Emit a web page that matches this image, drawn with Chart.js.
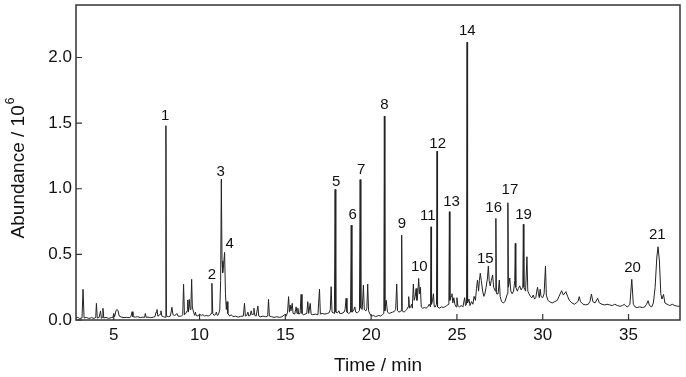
<!DOCTYPE html>
<html>
<head>
<meta charset="utf-8">
<script src="https://cdn.jsdelivr.net/npm/chart.js@4/dist/chart.umd.min.js"></script>
<style>
html,body{margin:0;padding:0;background:#fff;}
canvas{display:block;}
</style>
</head>
<body>
<canvas id="c" width="686" height="377"></canvas>
<script>
// ---- data ----
const time = [
2.80,2.90,3.00,3.15,3.21,3.27,3.40,3.55,3.70,3.85,3.95,3.99,4.04,4.15,4.23,4.28,4.33,4.37,4.42,4.55,
4.70,4.85,4.95,5.00,5.05,5.13,5.19,5.25,5.32,5.45,5.60,5.75,5.90,6.00,6.07,6.12,6.25,6.40,6.55,6.70,
6.80,6.84,6.89,7.00,7.15,7.30,7.40,7.47,7.52,7.57,7.65,7.70,7.75,7.80,7.90,8.01,8.04,8.07,8.20,8.30,
8.39,8.45,8.55,8.62,8.68,8.74,8.85,8.95,9.02,9.07,9.12,9.20,9.27,9.31,9.35,9.40,9.45,9.50,9.54,9.58,
9.65,9.72,9.76,9.80,9.90,10.00,10.10,10.20,10.30,10.40,10.50,10.60,10.67,10.72,10.77,10.85,10.92,10.98,11.03,11.10,
11.18,11.23,11.27,11.31,11.35,11.40,11.46,11.51,11.56,11.60,11.65,11.75,11.85,11.95,12.10,12.25,12.40,12.55,12.62,12.67,
12.75,12.82,12.87,12.95,13.01,13.06,13.12,13.17,13.22,13.30,13.40,13.45,13.55,13.70,13.85,13.97,14.02,14.07,14.20,14.35,
14.50,14.65,14.80,14.95,15.05,15.13,15.19,15.24,15.28,15.33,15.40,15.45,15.55,15.63,15.68,15.73,15.78,15.86,15.92,15.97,
16.05,16.15,16.25,16.31,16.36,16.45,16.50,16.60,16.75,16.90,16.99,17.04,17.15,17.30,17.45,17.55,17.62,17.67,17.72,17.86,
17.90,17.94,18.05,18.12,18.17,18.30,18.42,18.48,18.54,18.59,18.70,18.80,18.84,18.88,18.97,19.05,19.10,19.20,19.32,19.36,
19.40,19.48,19.55,19.60,19.70,19.75,19.80,19.85,19.95,20.05,20.15,20.25,20.35,20.45,20.55,20.65,20.74,20.77,20.80,20.88,
20.95,21.05,21.15,21.25,21.35,21.43,21.49,21.54,21.62,21.75,21.78,21.81,21.92,22.00,22.08,22.15,22.19,22.24,22.30,22.36,
22.40,22.46,22.51,22.57,22.62,22.67,22.72,22.77,22.82,22.87,22.92,23.00,23.10,23.20,23.30,23.38,23.46,23.49,23.52,23.58,
23.63,23.68,23.74,23.81,23.84,23.87,23.98,24.10,24.20,24.30,24.40,24.53,24.56,24.59,24.66,24.71,24.76,24.82,24.88,24.95,
25.00,25.05,25.15,25.25,25.35,25.45,25.50,25.56,25.59,25.62,25.70,25.76,25.85,25.93,26.00,26.08,26.14,26.20,26.26,26.31,
26.36,26.42,26.50,26.57,26.63,26.70,26.78,26.83,26.88,26.94,27.00,27.08,27.14,27.24,27.27,27.30,27.40,27.47,27.52,27.60,
27.70,27.80,27.94,27.97,28.00,28.08,28.14,28.22,28.30,28.37,28.40,28.43,28.52,28.58,28.66,28.74,28.84,28.87,28.90,29.00,
29.08,29.13,29.20,29.28,29.37,29.45,29.52,29.60,29.65,29.70,29.75,29.80,29.85,29.90,30.00,30.08,30.16,30.21,30.30,30.40,
30.55,30.70,30.85,30.95,31.10,31.20,31.35,31.45,31.55,31.70,31.85,31.95,32.05,32.13,32.20,32.35,32.50,32.65,32.75,32.84,
32.92,33.05,33.20,33.30,33.45,33.60,33.75,33.90,34.05,34.20,34.35,34.50,34.65,34.75,34.85,34.95,35.08,35.19,35.28,35.38,
35.50,35.65,35.80,35.95,36.05,36.14,36.22,36.35,36.45,36.55,36.65,36.72,36.80,36.88,36.95,37.04,37.12,37.25,37.40,37.55,
37.70,37.85,38.00
];
const abundance = [
0.015,0.020,0.012,0.015,0.234,0.015,0.020,0.012,0.018,0.012,0.020,0.127,0.015,0.020,0.069,0.012,0.020,0.089,0.015,0.020,
0.012,0.018,0.020,0.050,0.025,0.070,0.081,0.070,0.030,0.022,0.018,0.020,0.018,0.025,0.063,0.025,0.022,0.025,0.018,0.022,
0.020,0.050,0.020,0.022,0.018,0.022,0.025,0.060,0.080,0.030,0.035,0.045,0.070,0.030,0.025,0.020,1.480,0.030,0.025,0.030,
0.097,0.040,0.035,0.040,0.050,0.030,0.028,0.030,0.040,0.272,0.040,0.050,0.070,0.152,0.060,0.157,0.080,0.120,0.310,0.100,
0.060,0.035,0.060,0.035,0.030,0.045,0.035,0.040,0.030,0.035,0.030,0.035,0.050,0.280,0.050,0.035,0.040,0.060,0.035,0.040,
0.080,0.300,1.074,0.450,0.360,0.420,0.515,0.200,0.080,0.140,0.050,0.030,0.040,0.025,0.030,0.022,0.028,0.030,0.127,0.030,
0.035,0.060,0.030,0.035,0.070,0.040,0.045,0.090,0.035,0.030,0.107,0.030,0.025,0.030,0.025,0.030,0.157,0.030,0.025,0.020,
0.025,0.020,0.025,0.040,0.030,0.060,0.178,0.060,0.114,0.070,0.127,0.050,0.045,0.100,0.050,0.090,0.045,0.050,0.195,0.050,
0.040,0.045,0.050,0.140,0.050,0.127,0.045,0.040,0.045,0.040,0.236,0.045,0.050,0.045,0.050,0.055,0.080,0.254,0.060,0.050,
0.995,0.060,0.055,0.070,0.050,0.050,0.060,0.080,0.165,0.060,0.050,0.060,0.723,0.060,0.070,0.100,0.060,0.055,0.070,1.070,
0.090,0.080,0.266,0.080,0.070,0.090,0.274,0.070,0.040,0.030,0.035,0.025,0.030,0.035,0.030,0.040,0.050,1.554,0.070,0.150,
0.060,0.050,0.055,0.060,0.065,0.080,0.274,0.070,0.060,0.070,0.647,0.070,0.060,0.070,0.080,0.100,0.178,0.090,0.100,0.120,
0.090,0.274,0.150,0.180,0.240,0.150,0.200,0.317,0.200,0.250,0.100,0.090,0.095,0.090,0.100,0.120,0.100,0.710,0.120,0.150,
0.200,0.100,0.100,0.120,1.287,0.100,0.090,0.100,0.095,0.100,0.110,0.120,0.825,0.150,0.180,0.200,0.130,0.170,0.120,0.100,
0.170,0.110,0.100,0.110,0.100,0.170,0.110,0.120,2.117,0.130,0.160,0.110,0.140,0.120,0.180,0.150,0.240,0.305,0.220,0.300,
0.356,0.300,0.220,0.180,0.200,0.250,0.320,0.411,0.300,0.260,0.300,0.343,0.250,0.220,0.774,0.200,0.200,0.305,0.180,0.140,
0.130,0.140,0.200,0.893,0.250,0.320,0.220,0.200,0.220,0.300,0.584,0.250,0.220,0.240,0.260,0.230,0.250,0.729,0.250,0.220,
0.482,0.220,0.200,0.180,0.170,0.190,0.160,0.170,0.220,0.249,0.200,0.170,0.235,0.180,0.170,0.200,0.411,0.190,0.150,0.140,
0.130,0.140,0.150,0.180,0.223,0.190,0.216,0.180,0.150,0.130,0.120,0.130,0.140,0.178,0.140,0.120,0.115,0.120,0.140,0.198,
0.140,0.130,0.165,0.130,0.120,0.115,0.120,0.115,0.110,0.120,0.110,0.105,0.110,0.120,0.105,0.100,0.120,0.310,0.120,0.100,
0.095,0.100,0.095,0.100,0.120,0.147,0.110,0.100,0.130,0.250,0.480,0.558,0.450,0.200,0.160,0.195,0.130,0.120,0.110,0.120,
0.110,0.105,0.105
];
// peak labels
const peakLabels = ['1','2','3','4','5','6','7','8','9','10','11','12','13','14','15','16','17','19','20','21'];
const labelTime  = [8.00,10.72,11.23,11.75,17.96,18.93,19.42,20.77,21.80,22.81,23.30,23.88,24.69,25.60,26.65,27.14,28.09,28.88,35.23,36.68];
const labelAbund = [1.523,0.310,1.097,0.546,1.020,0.767,1.112,1.605,0.698,0.376,0.762,1.312,0.868,2.170,0.436,0.823,0.960,0.772,0.368,0.615];
// axis ticks
const xTicks = [5,10,15,20,25,30,35];
const yTicks = [0.0,0.5,1.0,1.5,2.0];
const xRange = [2.8, 38];
const yRange = [0, 2.4];

const FONT = "'Liberation Sans', Arial, sans-serif";
const points = time.map((t,i)=>({x:t, y:abundance[i]}));

const decor = {
  id:'decor',
  afterDraw(chart){
    const {ctx, chartArea:a, scales:{x,y}} = chart;
    ctx.save();
    // inward ticks
    ctx.strokeStyle = '#333';
    ctx.lineWidth = 1.2;
    ctx.beginPath();
    x.ticks.forEach(t=>{const px=x.getPixelForValue(t.value); ctx.moveTo(px,a.bottom); ctx.lineTo(px,a.bottom-6);});
    y.ticks.forEach(t=>{const py=y.getPixelForValue(t.value); ctx.moveTo(a.left,py); ctx.lineTo(a.left+6,py);});
    ctx.stroke();
    // frame
    ctx.lineWidth = 1.5;
    ctx.strokeRect(a.left, a.top, a.right-a.left, a.bottom-a.top);
    // peak labels
    ctx.fillStyle = '#111';
    ctx.font = '15px ' + FONT;
    ctx.textAlign = 'center';
    ctx.textBaseline = 'alphabetic';
    peakLabels.forEach((s,i)=>{
      ctx.fillText(s, x.getPixelForValue(labelTime[i]), y.getPixelForValue(labelAbund[i]));
    });
    // y axis title with superscript
    const main = 'Abundance / 10', sup = '6';
    ctx.font = '19px ' + FONT;
    const wm = ctx.measureText(main).width;
    ctx.font = '12px ' + FONT;
    const ws = ctx.measureText(sup).width;
    const cy = (a.top + a.bottom)/2 + 6;
    ctx.translate(19, cy);
    ctx.rotate(-Math.PI/2);
    ctx.textAlign = 'left';
    ctx.textBaseline = 'middle';
    const start = -(wm+ws)/2;
    ctx.font = '19px ' + FONT;
    ctx.fillText(main, start, 0);
    ctx.font = '12px ' + FONT;
    ctx.fillText(sup, start+wm+1, -8);
    ctx.restore();
  }
};

new Chart(document.getElementById('c'), {
  type:'line',
  data:{datasets:[{data:points, borderColor:'#222', borderWidth:1, pointRadius:0, tension:0, fill:false}]},
  options:{
    responsive:false, animation:false, devicePixelRatio:1,
    layout:{padding:{left:0,right:6,top:5,bottom:0}},
    plugins:{legend:{display:false}, tooltip:{enabled:false}},
    scales:{
      x:{
        type:'linear', min:xRange[0], max:xRange[1],
        afterBuildTicks:s=>{s.ticks = xTicks.map(v=>({value:v}));},
        afterFit:s=>{s.height=57; s.paddingLeft=0; s.paddingRight=0;},
        grid:{display:false, drawTicks:false}, border:{display:false},
        ticks:{font:{family:FONT,size:17}, color:'#111', padding:5, maxRotation:0, autoSkip:false},
        title:{display:true, text:'Time / min', font:{family:FONT,size:19}, color:'#111', padding:{top:0,bottom:0}}
      },
      y:{
        type:'linear', min:yRange[0], max:yRange[1],
        afterBuildTicks:s=>{s.ticks = yTicks.map(v=>({value:v}));},
        afterFit:s=>{s.width=76; s.paddingTop=0; s.paddingBottom=0;},
        grid:{display:false, drawTicks:false}, border:{display:false},
        ticks:{font:{family:FONT,size:17}, color:'#111', padding:4, autoSkip:false, callback:v=>Number(v).toFixed(1)},
        title:{display:false}
      }
    }
  },
  plugins:[decor]
});
</script>
</body>
</html>
